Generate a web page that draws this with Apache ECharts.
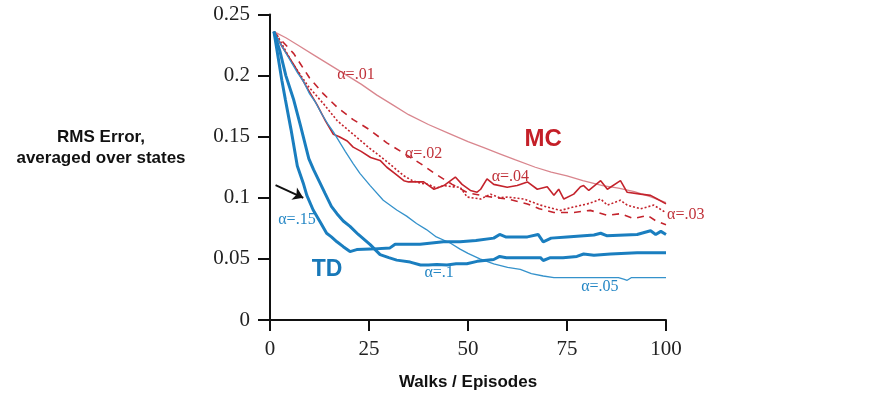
<!DOCTYPE html>
<html>
<head>
<meta charset="utf-8">
<script src="https://cdn.jsdelivr.net/npm/echarts@6/dist/echarts.min.js"></script>
<style>
  html, body { margin: 0; padding: 0; background: #fff; }
  #chart { width: 871px; height: 396px; }
</style>
</head>
<body>
<div id="chart"></div>
<script>
// x ticks and y ticks
const xTicks = [0, 25, 50, 75, 100];
const yTicks = [0, 0.05, 0.1, 0.15, 0.2, 0.25];

// [episode, rms error]
const mc01 = [[1,0.236],[4,0.231],[7,0.225],[11,0.217],[15,0.209],[19,0.201],[23,0.193],[27,0.184],[31,0.176],[35,0.168],[40,0.160],[45,0.153],[50,0.146],[54,0.141],[58,0.136],[62,0.131],[67,0.125],[71,0.121],[75,0.118],[79,0.114],[84,0.110],[88,0.108],[92,0.105],[96,0.101],[100,0.096]];
const mc02 = [[1,0.236],[2,0.232],[6,0.218],[10,0.198],[13.5,0.185],[17,0.174],[21,0.164],[25,0.156],[29.5,0.145],[34,0.136],[38,0.128],[42,0.119],[46,0.111],[50,0.104],[55,0.101],[60,0.099],[65,0.095],[68,0.091],[71.7,0.088],[76.7,0.088],[80.9,0.0897],[85.2,0.0856],[88.5,0.087],[91.9,0.083],[95.3,0.0856],[97.5,0.081],[100,0.078]];
const mc03 = [[1,0.236],[2,0.232],[5.5,0.211],[9.7,0.191],[13.5,0.177],[17,0.163],[21,0.152],[25,0.141],[29,0.131],[33.8,0.118],[36,0.114],[38,0.112],[40,0.111],[42,0.108],[44,0.110],[46,0.109],[48,0.1087],[49.8,0.1006],[53.2,0.099],[55.7,0.103],[58,0.100],[59.9,0.1006],[64.1,0.099],[68.3,0.094],[71.7,0.091],[73.4,0.0897],[76.7,0.0925],[80.1,0.095],[82,0.097],[83.5,0.099],[85.2,0.094],[88.5,0.098],[90.2,0.094],[93.6,0.091],[96.9,0.094],[99.4,0.089],[100,0.088]];
const mc04 = [[1,0.236],[3,0.224],[6,0.209],[9,0.192],[11.9,0.176],[14,0.163],[16,0.152],[17.5,0.150],[19.5,0.1465],[21,0.1415],[23,0.138],[25.4,0.133],[27.8,0.1306],[29.5,0.125],[31.5,0.120],[33.8,0.114],[35,0.113],[36.3,0.113],[38.8,0.113],[41.4,0.107],[43.9,0.110],[46.8,0.117],[48.5,0.111],[50.6,0.106],[52.3,0.1046],[53.2,0.107],[54.8,0.1155],[56.5,0.111],[59.9,0.1087],[62.4,0.110],[65,0.113],[67.5,0.107],[70,0.109],[71.7,0.102],[72.9,0.107],[74.2,0.099],[76.7,0.103],[78.4,0.109],[79.2,0.110],[80.5,0.106],[83.5,0.114],[85.2,0.107],[88.5,0.114],[90.2,0.1045],[93.6,0.103],[96.1,0.102],[97.8,0.099],[100,0.095]];
const td05 = [[1,0.236],[3,0.224],[5,0.213],[7,0.202],[8.5,0.195],[10,0.185],[11.5,0.178],[13,0.169],[14.5,0.161],[16,0.154],[17.5,0.146],[19,0.138],[21,0.128],[22.7,0.120],[25.3,0.110],[28.6,0.098],[32,0.090],[34.5,0.085],[37,0.079],[39.5,0.074],[42,0.068],[45.5,0.063],[48,0.058],[50,0.0545],[53,0.050],[56.5,0.046],[60,0.043],[63.2,0.0414],[66,0.038],[69,0.036],[71.7,0.0346],[80,0.0346],[88,0.0346],[89.3,0.0335],[90.2,0.0325],[91.2,0.0346],[100,0.0346]];
const td10 = [[1,0.236],[2.5,0.220],[4,0.200],[6,0.180],[7.7,0.159],[9.8,0.132],[11,0.123],[12.5,0.113],[13.9,0.1036],[15.5,0.093],[16.9,0.087],[18.5,0.081],[20.2,0.0766],[22.3,0.070],[25.3,0.0617],[27.8,0.0535],[30,0.051],[32,0.049],[35.4,0.0474],[38,0.045],[40,0.045],[42.1,0.0455],[44.7,0.045],[47,0.046],[49.7,0.046],[52.3,0.048],[56.5,0.0495],[58,0.052],[59.7,0.051],[64,0.051],[68.3,0.051],[69,0.0487],[70.8,0.051],[74,0.051],[77.5,0.052],[79.2,0.054],[81.8,0.053],[86,0.054],[92.7,0.055],[100,0.055]];
const td15 = [[1,0.236],[2,0.216],[3,0.196],[3.9,0.180],[5.3,0.156],[6.9,0.126],[8.4,0.112],[9.3,0.102],[10.9,0.090],[12.6,0.0806],[14.3,0.071],[15.5,0.068],[16.9,0.064],[18.5,0.060],[20.2,0.056],[21.9,0.0576],[25.3,0.058],[30.3,0.059],[31.6,0.062],[37.9,0.062],[43.8,0.064],[48,0.064],[52,0.065],[56.5,0.067],[58,0.070],[59.5,0.068],[62,0.068],[65,0.068],[67.7,0.070],[69,0.064],[71,0.067],[75,0.068],[81.8,0.0696],[83.5,0.071],[85,0.069],[92.7,0.070],[96.1,0.073],[97.4,0.070],[98.7,0.0725],[100,0.070]];

// text annotations: [text, episode, error]
const mcNotes = [['α=.01', 21.7, 0.2004], ['α=.02', 38.8, 0.136], ['α=.04', 60.7, 0.1174], ['α=.03', 105, 0.086]];
const tdNotes = [['α=.15', 6.8, 0.082], ['α=.1', 42.7, 0.0387], ['α=.05', 83.3, 0.0271]];
const bigNotes = [['MC', 69, 0.148], ['TD', 14.4, 0.0414]];
const arrowFrom = [1.4, 0.1104];
const arrowTo = [8.4, 0.100];

const RED = '#c4232c';
const PINK = '#d9868e';
const BLUE = '#1a7ebf';
const LBLUE = '#3592cb';

const chart = echarts.init(document.getElementById('chart'));

function lineSeries(name, data, color, width, type) {
  return {
    name: name,
    type: 'line',
    data: data,
    symbol: 'none',
    silent: true,
    lineStyle: { color: color, width: width, type: type || 'solid' },
    z: 3,
  };
}

function noteSeries(notes, color, font, size, weight) {
  return {
    type: 'scatter',
    data: notes.map((n) => ({ value: [n[1], n[2]], name: n[0] })),
    symbolSize: 1,
    clip: false,
    silent: true,
    itemStyle: { color: 'transparent', opacity: 1 },
    label: {
      show: true,
      position: 'inside',
      formatter: (p) => p.name,
      color: color,
      opacity: 1,
      fontFamily: font,
      fontSize: size,
      fontWeight: weight,
    },
    z: 5,
  };
}

const option = {
  animation: false,
  backgroundColor: '#fff',
  grid: { left: 270, right: 205, top: 14.5, bottom: 73.3 },
  xAxis: {
    type: 'value',
    min: xTicks[0],
    max: xTicks[xTicks.length - 1],
    interval: 25,
    name: 'Walks / Episodes',
    nameLocation: 'middle',
    nameGap: 54,
    nameTextStyle: { fontFamily: 'Liberation Sans', fontWeight: 'bold', fontSize: 17, color: '#111' },
    axisLine: { lineStyle: { color: '#111', width: 2 } },
    axisTick: { length: 11, lineStyle: { color: '#111', width: 2 } },
    axisLabel: { margin: 19, fontFamily: 'Liberation Serif', fontSize: 21, color: '#222' },
    splitLine: { show: false },
  },
  yAxis: {
    type: 'value',
    min: yTicks[0],
    max: yTicks[yTicks.length - 1],
    interval: 0.05,
    axisLine: { show: true, lineStyle: { color: '#111', width: 2 } },
    axisTick: { show: true, length: 12, lineStyle: { color: '#111', width: 2 } },
    axisLabel: { margin: 20, fontFamily: 'Liberation Serif', fontSize: 21, color: '#222' },
    splitLine: { show: false },
  },
  graphic: [
    {
      type: 'text',
      x: 101,
      y: 148,
      style: {
        text: 'RMS Error,\naveraged over states',
        align: 'center',
        verticalAlign: 'middle',
        fontFamily: 'Liberation Sans',
        fontWeight: 'bold',
        fontSize: 17,
        lineHeight: 21,
        fill: '#111',
      },
    },
  ],
  series: [
    lineSeries('MC α=.01', mc01, PINK, 1.3),
    lineSeries('MC α=.02', mc02, RED, 1.6, [7, 6]),
    lineSeries('MC α=.03', mc03, RED, 1.6, [2, 2]),
    lineSeries('MC α=.04', mc04, RED, 1.6),
    lineSeries('TD α=.05', td05, LBLUE, 1.3),
    lineSeries('TD α=.1', td10, BLUE, 3),
    Object.assign(lineSeries('TD α=.15', td15, BLUE, 3), {
      markLine: {
        silent: true,
        symbol: ['none', 'arrow'],
        symbolSize: 10,
        label: { show: false },
        lineStyle: { color: '#111', width: 2, type: 'solid' },
        data: [[{ coord: arrowFrom }, { coord: arrowTo }]],
      },
    }),
    noteSeries(mcNotes, '#c0323a', 'Liberation Serif', 16, 'normal'),
    noteSeries(tdNotes, '#2587c5', 'Liberation Serif', 16, 'normal'),
    noteSeries(bigNotes.slice(0, 1), '#c41f28', 'Liberation Sans', 24, 'bold'),
    noteSeries(bigNotes.slice(1), '#1878b8', 'Liberation Sans', 23, 'bold'),
  ],
};

chart.setOption(option);
</script>
</body>
</html>
